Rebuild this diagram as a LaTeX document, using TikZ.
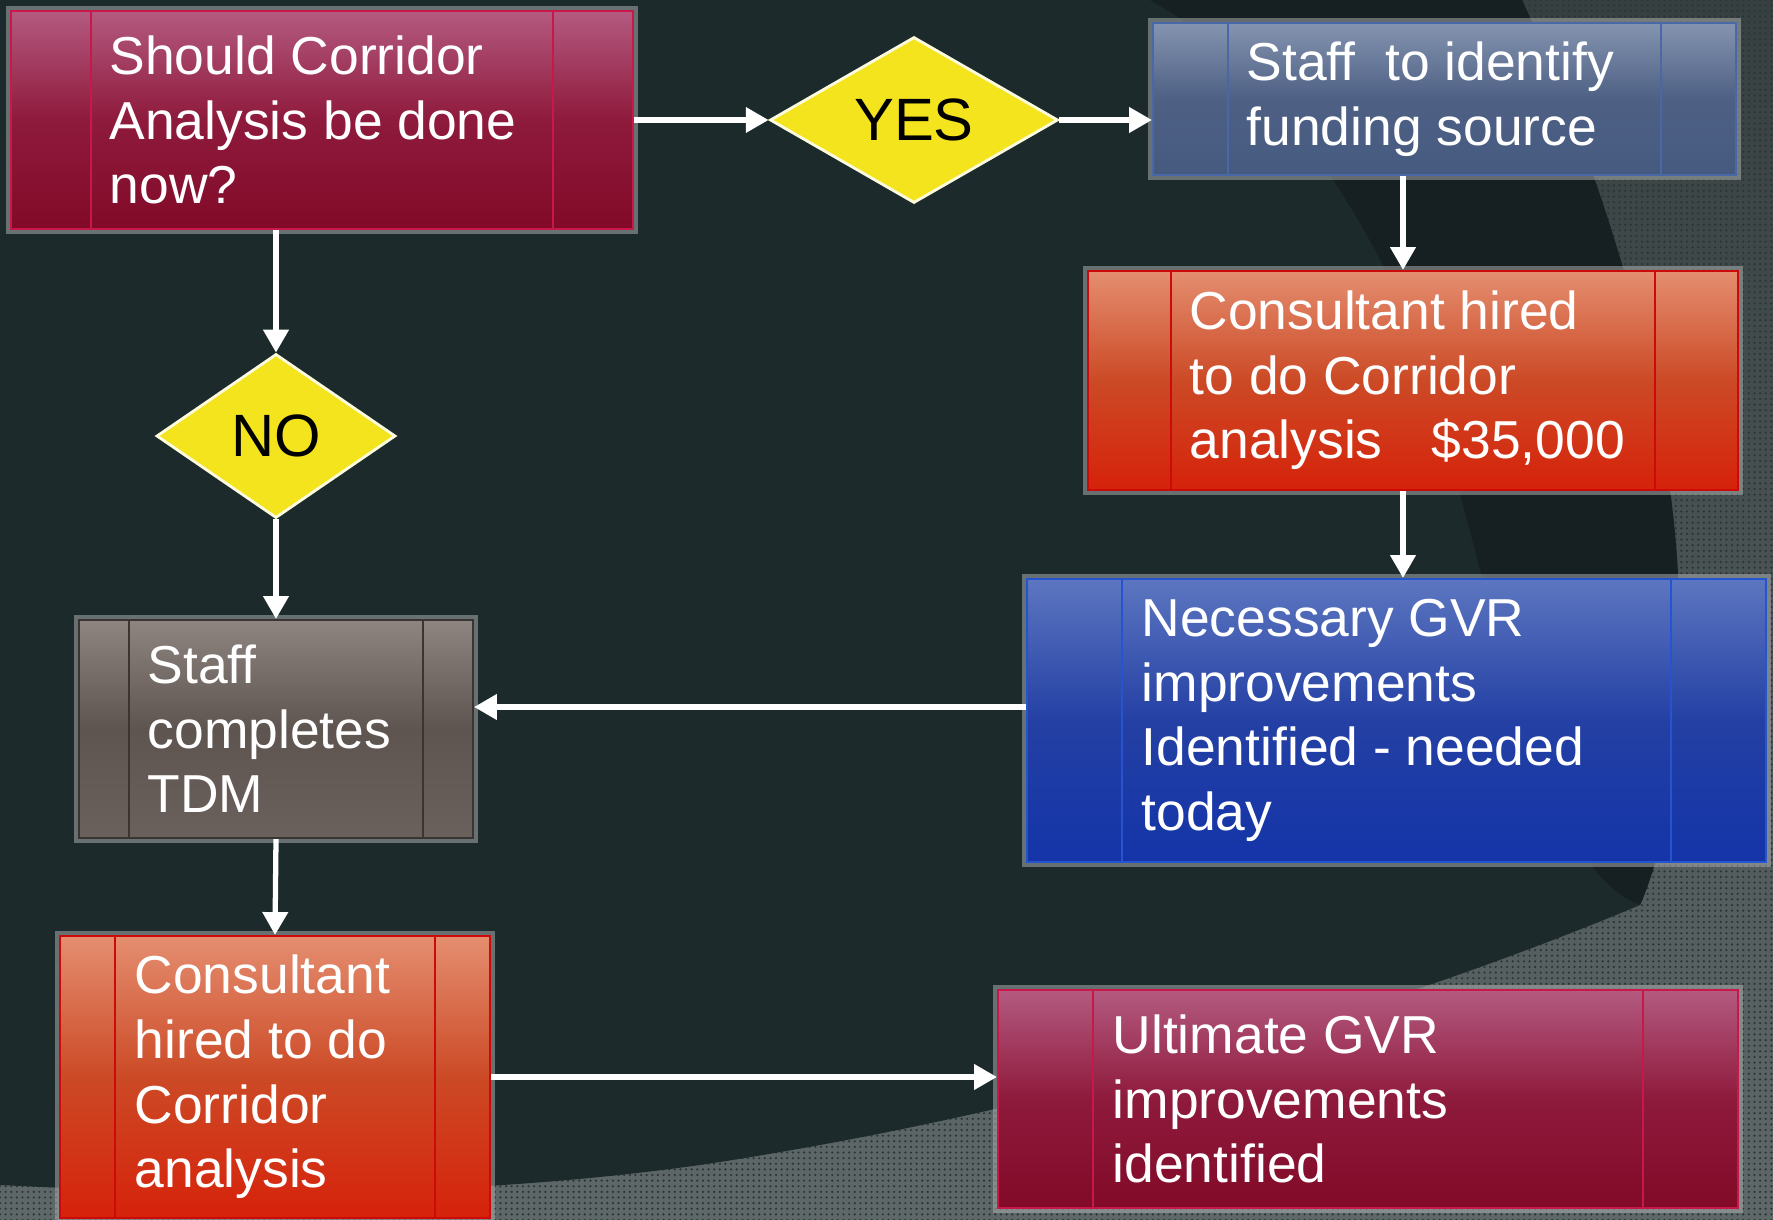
\documentclass[tikz,border=0pt]{standalone}
\usepackage{fontspec}
\setmainfont{Liberation Sans}
\usetikzlibrary{shapes.geometric,arrows.meta,calc,patterns.meta}

\definecolor{bgdark}{HTML}{1C2A2B}
\definecolor{bgshadow}{HTML}{121A1C}
\definecolor{bggraytop}{HTML}{364040}
\definecolor{bggraybot}{HTML}{5E6868}
\definecolor{bgdot}{HTML}{2C3434}
\definecolor{halo}{HTML}{A8ACAC}
\definecolor{wineTop}{HTML}{B45A80}
\definecolor{wineMid}{HTML}{8E1A3C}
\definecolor{wineBot}{HTML}{820A28}
\definecolor{wineLine}{HTML}{C8184A}
\definecolor{slateTop}{HTML}{8494B0}
\definecolor{slateMid}{HTML}{4E6084}
\definecolor{slateBot}{HTML}{465A80}
\definecolor{slateLine}{HTML}{4868A8}
\definecolor{emberTop}{HTML}{E48E70}
\definecolor{emberMid}{HTML}{CC4A26}
\definecolor{emberBot}{HTML}{D6220A}
\definecolor{emberLine}{HTML}{CC0A0A}
\definecolor{cobaltTop}{HTML}{5C76C0}
\definecolor{cobaltMid}{HTML}{2440A4}
\definecolor{cobaltBot}{HTML}{1434A8}
\definecolor{cobaltLine}{HTML}{2454D0}
\definecolor{taupeTop}{HTML}{8E8480}
\definecolor{taupeMid}{HTML}{5E5450}
\definecolor{taupeBot}{HTML}{6A605C}
\definecolor{taupeLine}{HTML}{3A3432}
\definecolor{decide}{HTML}{F4E41E}

\begin{document}
\begin{tikzpicture}[x=0.1mm, y=-0.1mm,
  every node/.style={inner sep=0pt},
  proc/.style={rectangle, draw=#1, line width=0.6pt,
    preaction={draw=halo, line width=3pt, opacity=.55},
    path picture={
      \draw[#1, line width=0.6pt]
        ($(path picture bounding box.north west)!.128!(path picture bounding box.north east)$) --
        ($(path picture bounding box.south west)!.128!(path picture bounding box.south east)$)
        ($(path picture bounding box.north west)!.872!(path picture bounding box.north east)$) --
        ($(path picture bounding box.south west)!.872!(path picture bounding box.south east)$);
    }},
  wine/.style={proc=wineLine, top color=wineTop, bottom color=wineBot, middle color=wineMid},
  slate/.style={proc=slateLine, top color=slateTop, bottom color=slateBot, middle color=slateMid},
  ember/.style={proc=emberLine, top color=emberTop, bottom color=emberBot, middle color=emberMid},
  cobalt/.style={proc=cobaltLine, top color=cobaltTop, bottom color=cobaltBot, middle color=cobaltMid},
  taupe/.style={proc=taupeLine, top color=taupeTop, bottom color=taupeBot, middle color=taupeMid},
  boxtext/.style={text=white, align=left, anchor=west, font=\fontsize{15.2}{18.4}\selectfont},
  decision/.style={diamond, fill=decide, draw=white!85!decide, line width=0.8pt,
    font=\fontsize{17}{20}\selectfont},
  flow/.style={draw=white, line width=1.5pt, -{Triangle[length=6.5pt,width=7pt]}}]
\useasboundingbox (0,0) rectangle (1773,1220);

% background
\shade[top color=bggraytop, bottom color=bggraybot] (0,0) rectangle (1773,1220);
\fill[pattern={Dots[distance=1.6pt,radius=.35pt]}, pattern color=bgdot] (0,0) rectangle (1773,1220);
\fill[bgdark] (0,0) -- (1522,0) .. controls (1600,170) and (1680,400) .. (1680,640)
  .. controls (1680,780) and (1660,860) .. (1640,905)
  .. controls (1450,985) and (1100,1105) .. (700,1165)
  .. controls (450,1200) and (200,1195) .. (0,1185) -- cycle;
\fill[bgshadow, opacity=.6] (1150,0) -- (1522,0) .. controls (1600,170) and (1680,400) .. (1680,640)
  .. controls (1680,780) and (1660,860) .. (1640,905)
  .. controls (1520,860) and (1480,500) .. (1400,300)
  .. controls (1330,150) and (1240,50) .. (1150,0) -- cycle;

% boxes
\node[wine, minimum width=62.2mm, minimum height=21.8mm] (ask) at (322,120) {};
\node[boxtext] (ask-t) at ([xshift=9.9mm]ask.west) {Should Corridor\\Analysis be done\\now?};

\node[decision, minimum width=28.8mm, minimum height=16.6mm] (yes) at (914,120) {YES};

\node[slate, minimum width=58.3mm, minimum height=15.2mm] (fund) at (1444.5,99) {};
\node[boxtext] (fund-t) at ([xshift=9.4mm]fund.west) {Staff\ \ to identify\\funding source};

\node[ember, minimum width=65mm, minimum height=21.9mm] (consult) at (1413,380.5) {};
\node[boxtext] (consult-t) at ([xshift=10.2mm]consult.west) {Consultant hired\\to do Corridor\\analysis\hspace{14pt}\$35,000};

\node[cobalt, minimum width=73.9mm, minimum height=28.3mm] (need) at (1396.5,720.5) {};
\node[boxtext] (need-t) at ([xshift=11.5mm]need.west) {Necessary GVR\\improvements\\Identified - needed\\today};

\node[decision, minimum width=23.9mm, minimum height=16.4mm] (no) at (276,436) {NO};

\node[taupe, minimum width=39.4mm, minimum height=21.8mm] (tdm) at (276,729) {};
\node[boxtext] (tdm-t) at ([xshift=6.9mm]tdm.west) {Staff\\completes\\TDM};

\node[ember, minimum width=43mm, minimum height=28.2mm] (hire) at (275,1077) {};
\node[boxtext] (hire-t) at ([xshift=7.5mm]hire.west) {Consultant\\hired to do\\Corridor\\analysis};

\node[wine, minimum width=74mm, minimum height=21.8mm] (ult) at (1368,1099) {};
\node[boxtext] (ult-t) at ([xshift=11.5mm]ult.west) {Ultimate GVR\\improvements\\identified};

% connectors
\draw[flow] (ask.east) -- (yes.west);
\draw[flow] (yes.east) -- (yes.east -| fund.west);
\draw[flow] ([xshift=-4.15mm]fund.south) -- ([xshift=-4.15mm]fund.south |- consult.north);
\draw[flow] ([xshift=-1mm]consult.south) -- ([xshift=-1mm]consult.south |- need.north);
\draw[flow] (no.north |- ask.south) -- (no.north);
\draw[flow] (no.south) -- (tdm.north);
\draw[flow] ([yshift=1.35mm]need.west) -- ([yshift=1.35mm]need.west -| tdm.east);
\draw[flow] (tdm.south) -- (hire.north);
\draw[flow] (hire.east) -- (hire.east -| ult.west);
\end{tikzpicture}
\end{document}
